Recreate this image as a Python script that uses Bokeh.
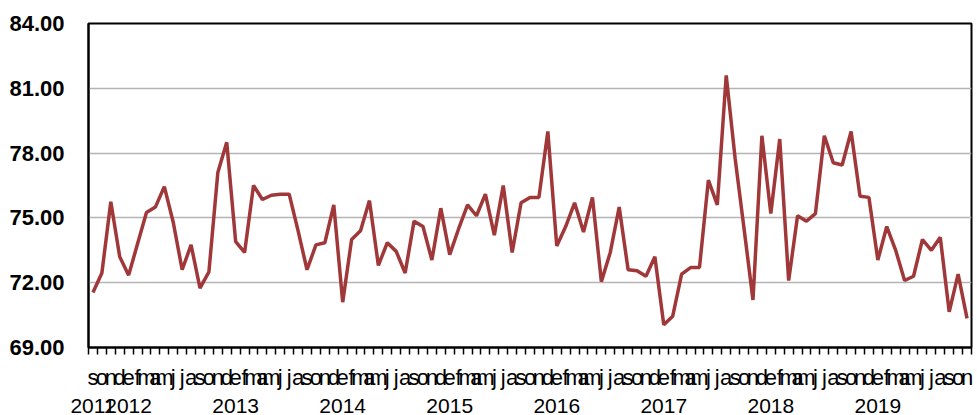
from bokeh.plotting import figure
from bokeh.models import (ColumnDataSource, LinearAxis, FixedTicker, Range1d,
                          NumeralTickFormatter)
from bokeh.embed import file_html
from bokeh.resources import INLINE

# ---- data ----
month_initials = ["e", "f", "m", "a", "m", "j", "j", "a", "s", "o", "n", "d"]
start_year = 2011
start_month = 9  # September
values = [
    71.55, 72.45, 75.75, 73.2,
    72.35, 73.8, 75.25, 75.5, 76.45, 74.8, 72.6, 73.75, 71.75, 72.5, 77.1, 78.5,
    73.9, 73.4, 76.5, 75.85, 76.05, 76.1, 76.1, 74.4, 72.6, 73.75, 73.85, 75.6,
    71.1, 74.0, 74.4, 75.8, 72.8, 73.85, 73.45, 72.45, 74.85, 74.6, 73.05, 75.45,
    73.3, 74.5, 75.6, 75.1, 76.1, 74.2, 76.5, 73.4, 75.7, 75.95, 75.95, 79.0,
    73.7, 74.6, 75.7, 74.35, 75.95, 72.05, 73.4, 75.5, 72.6, 72.55, 72.3, 73.2,
    70.05, 70.45, 72.4, 72.7, 72.7, 76.75, 75.6, 81.6, 77.75, 74.5, 71.2, 78.8,
    75.2, 78.65, 72.1, 75.1, 74.85, 75.2, 78.8, 77.55, 77.45, 79.0, 76.0, 75.95,
    73.05, 74.6, 73.5, 72.1, 72.3, 74.0, 73.5, 74.1, 70.65, 72.4, 70.35,
]
y_ticks = [69, 72, 75, 78, 81, 84]

# ---- derived ----
n = len(values)
idx = list(range(n))
month_labels = {}
year_labels = {}
for i in idx:
    m0 = start_month - 1 + i
    month_labels[i] = month_initials[m0 % 12]
    if i == 0 or m0 % 12 == 0:
        year_labels[i] = str(start_year + m0 // 12)

src = ColumnDataSource(dict(x=idx, y=values))

FONT = "Liberation Sans Narrow, Liberation Sans"

p = figure(width=977, height=415, output_backend="svg", toolbar_location=None,
           x_range=Range1d(-0.5, n - 0.5), y_range=Range1d(69, 84),
           x_axis_location=None, min_border_left=88, min_border_right=6,
           min_border_top=23, min_border_bottom=0)
p.background_fill_color = "white"
p.border_fill_color = "white"
p.outline_line_color = "black"
p.outline_line_width = 2

p.line("x", "y", source=src, line_color="#A0383A", line_width=3.5)

# y axis
ya = p.yaxis[0]
ya.ticker = FixedTicker(ticks=y_ticks)
ya.formatter = NumeralTickFormatter(format="0.00")
ya.major_tick_out = 0
ya.major_tick_in = 0
ya.minor_tick_line_color = None
ya.axis_line_color = "black"
ya.axis_line_width = 2
ya.major_label_text_font = FONT
ya.major_label_text_font_style = "bold"
ya.major_label_text_font_size = "22px"
ya.major_label_text_color = "black"
ya.major_label_standoff = 24

p.ygrid.ticker = FixedTicker(ticks=y_ticks[1:-1])
p.ygrid.grid_line_color = "#b4b4b4"
p.ygrid.grid_line_width = 1.5
p.xgrid.visible = False

# month axis (ticks at boundaries as minor ticks)
ma = LinearAxis(ticker=FixedTicker(ticks=idx, minor_ticks=[i - 0.5 for i in range(n + 1)]),
                major_label_overrides=month_labels)
ma.axis_line_color = "black"
ma.axis_line_width = 2
ma.major_tick_out = 0
ma.major_tick_in = 0
ma.minor_tick_out = 7
ma.minor_tick_in = 0
ma.minor_tick_line_color = "black"
ma.minor_tick_line_width = 1.5
ma.major_label_standoff = 10
ma.major_label_text_font = FONT
ma.major_label_text_font_size = "22px"
ma.major_label_text_color = "black"
p.add_layout(ma, "below")

# year axis
ya2 = LinearAxis(ticker=FixedTicker(ticks=list(year_labels.keys())),
                 major_label_overrides=year_labels)
ya2.axis_line_color = None
ya2.major_tick_line_color = None
ya2.minor_tick_line_color = None
ya2.major_label_standoff = 0
ya2.major_label_text_font = FONT
ya2.major_label_text_font_size = "21px"
ya2.major_label_text_color = "black"
p.add_layout(ya2, "below")

open("out.html", "w").write(file_html(p, INLINE))
